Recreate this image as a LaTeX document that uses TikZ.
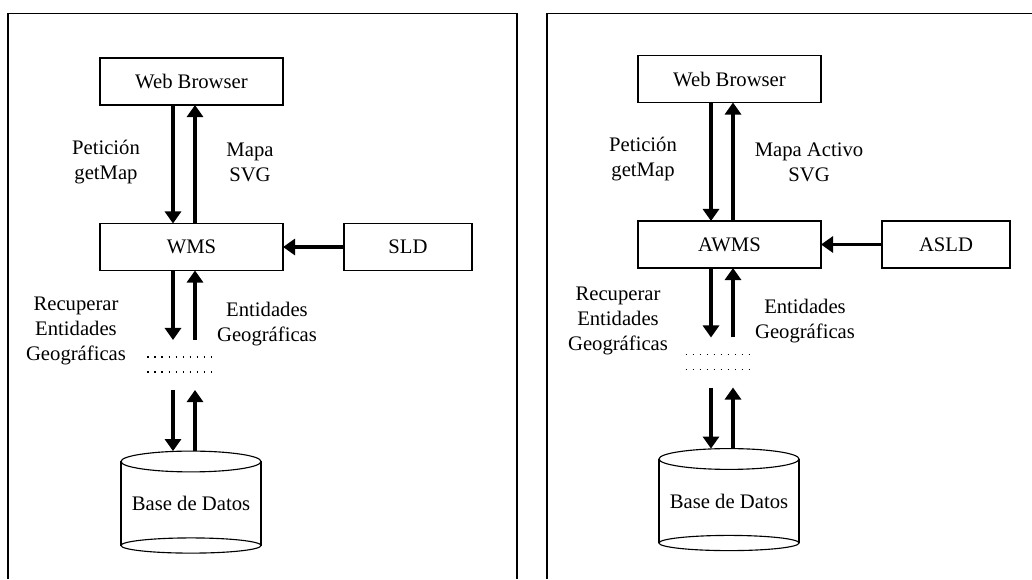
\documentclass[tikz,border=0pt]{standalone}
\usepackage{fontspec}
\setmainfont{Liberation Serif}
\usetikzlibrary{arrows.meta}
\tikzset{
  frame/.style={draw, line width=1pt},
  box/.style={draw, line width=0.8pt, minimum width=4.575cm, minimum height=1.175cm, inner sep=0pt, outer sep=0pt},
  db/.style={minimum width=3.5cm, minimum height=2.1cm, inner sep=0pt, outer sep=0pt},
  gap/.style={minimum width=1.6cm, minimum height=1.25cm, inner sep=0pt, outer sep=0pt},
  flow/.style={draw, line width=2.2pt, -{Triangle[length=0.3cm,width=0.4cm]}},
  dots/.style={draw, line width=1.1pt, dash pattern=on 1.1pt off 3.88pt},
  rim/.style={draw, line width=0.8pt}
}
\begin{document}
\begin{tikzpicture}[x=0.025cm, y=-0.025cm, every node/.style={font=\fontsize{14.7}{17.8}\selectfont}]
\useasboundingbox (0,0) rectangle (1032,579);
\path[frame] (8,579) -- (8,13.5) -- (517,13.5) -- (517,579);
\path[frame] (547,579) -- (547,13.5) -- (1032,13.5);

% left panel
\node[box] (b1) at (191.5,81.5) {Web Browser};
\node[box] (w1) at (191.5,247) {WMS};
\node[box, minimum width=3.2cm] (s1) at (408,247) {SLD};
\node[gap] (g1) at (179.5,365) {};
\node[db] (d1) at (191,503.5) {Base de Datos};
\node[align=center] (p1) at (106,162.5) {Petición\\getMap};
\node[align=center] (m1) at (250,162.5) {Mapa\\SVG};
\node[align=center] (r1) at (76,330.5) {Recuperar\\Entidades\\Geográficas};
\node[align=center] (e1) at (267,324) {Entidades\\Geográficas};
\coordinate (xa1) at (173,0);
\coordinate (xb1) at (195,0);
\coordinate (t1) at ([yshift=0.26cm]d1.north);
\path[rim] (d1.north west) -- (d1.south west) (d1.north east) -- (d1.south east);
\path[rim] (d1.north) ellipse [x radius=1.75cm, y radius=0.26cm];
\path[rim] (d1.south) ellipse [x radius=1.75cm, y radius=0.19cm];
\path[dots] ([yshift=0.2cm]g1.west) -- ([yshift=0.2cm]g1.east);
\path[dots] ([yshift=-0.175cm]g1.west) -- ([yshift=-0.175cm]g1.east);
\path[flow] (b1.south -| xa1) -- (w1.north -| xa1);
\path[flow] (w1.north -| xb1) -- (b1.south -| xb1);
\path[flow] (w1.south -| xa1) -- (g1.north -| xa1);
\path[flow] (g1.north -| xb1) -- (w1.south -| xb1);
\path[flow] (g1.south -| xa1) -- (t1 -| xa1);
\path[flow] (t1 -| xb1) -- (g1.south -| xb1);
\path[flow] (s1) -- (w1);

% right panel
\node[box] (b2) at (729.5,79) {Web Browser};
\node[box] (w2) at (729.5,244.5) {AWMS};
\node[box, minimum width=3.2cm] (s2) at (946,244.5) {ASLD};
\node[gap] (g2) at (717.5,362.5) {};
\node[db] (d2) at (729,501) {Base de Datos};
\node[align=center] (p2) at (643,159.5) {Petición\\getMap};
\node[align=center] (m2) at (809,162.5) {Mapa Activo\\SVG};
\node[align=center] (r2) at (618,320.5) {Recuperar\\Entidades\\Geográficas};
\node[align=center] (e2) at (805,321.5) {Entidades\\Geográficas};
\coordinate (xa2) at (711,0);
\coordinate (xb2) at (733,0);
\coordinate (t2) at ([yshift=0.26cm]d2.north);
\path[rim] (d2.north west) -- (d2.south west) (d2.north east) -- (d2.south east);
\path[rim] (d2.north) ellipse [x radius=1.75cm, y radius=0.26cm];
\path[rim] (d2.south) ellipse [x radius=1.75cm, y radius=0.19cm];
\path[dots] ([yshift=0.2cm]g2.west) -- ([yshift=0.2cm]g2.east);
\path[dots] ([yshift=-0.175cm]g2.west) -- ([yshift=-0.175cm]g2.east);
\path[flow] (b2.south -| xa2) -- (w2.north -| xa2);
\path[flow] (w2.north -| xb2) -- (b2.south -| xb2);
\path[flow] (w2.south -| xa2) -- (g2.north -| xa2);
\path[flow] (g2.north -| xb2) -- (w2.south -| xb2);
\path[flow] (g2.south -| xa2) -- (t2 -| xa2);
\path[flow] (t2 -| xb2) -- (g2.south -| xb2);
\path[flow] (s2) -- (w2);
\end{tikzpicture}
\end{document}
